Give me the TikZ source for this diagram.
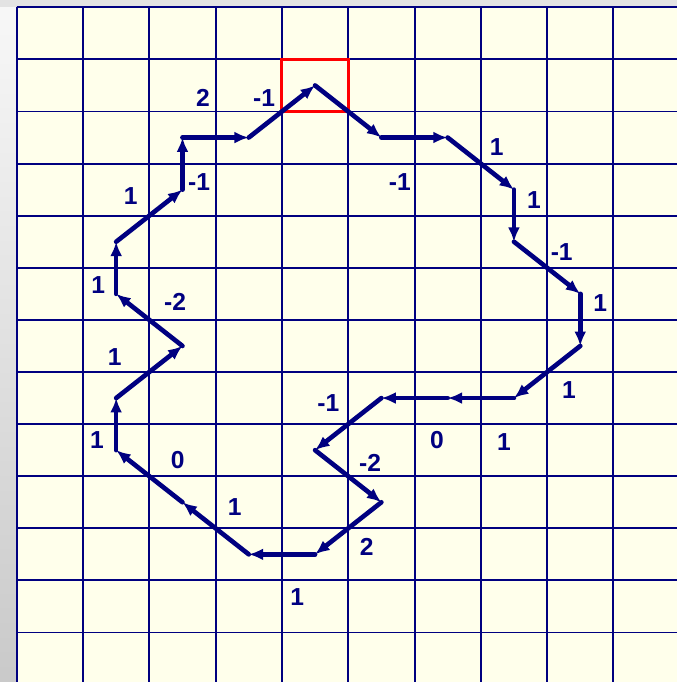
\documentclass[tikz,border=0pt]{standalone}
\usepackage{fontspec}
\setmainfont{Liberation Sans}
\usetikzlibrary{arrows.meta}
\definecolor{paper}{HTML}{FFFFEB}
\definecolor{ink}{HTML}{000080}

\begin{document}
\begin{tikzpicture}[x=1.6575cm,y=-1.3025cm,
    gridline/.style={ink,line width=1.4pt},
    walk/.style={ink,line width=3.3pt,line cap=round,-{Latex[length=0.36cm,width=0.3cm]}},
    num/.style={ink,font=\fontsize{17.5}{20}\selectfont\bfseries}]
    \useasboundingbox (-0.252,-0.14) rectangle (9.959,12.95);

    % Page shadow
    \fill[gray!22] (-0.252,-0.14) rectangle (9.959,0);
    \shade[top color=gray!6,bottom color=gray!42] (-0.252,0) rectangle (0,12.95);

    % Squared paper
    \fill[paper] (0,0) rectangle (9.959,12.95);
    \foreach \c in {0,...,9}
        \draw[gridline] (\c,0) -- (\c,12.95);
    \foreach \r in {0,...,12}
        \draw[gridline] (0,\r) -- (9.959,\r);

    % Start cell
    \draw[red,line width=2.2pt] (4,1) rectangle (5,2);

    % Walk round the loop, cell centre to cell centre
    \foreach \c/\r [count=\i] in {4/1,5/2,6/2,7/3,7/4,8/5,8/6,7/7,6/7,5/7,4/8,5/9,
                                  4/10,3/10,2/9,1/8,1/7,2/6,1/5,1/4,2/3,2/2,3/2}
        \coordinate (p\i) at (\c+0.5,\r+0.5);
    \foreach \i [evaluate=\i as \j using {int(mod(\i,23)+1)}] in {1,...,23}
        \draw[walk] (p\i) -- (p\j);

    % Turn numbers
    \node[num] (n1) at (2.81,1.74) {2};
    \node[num] (n2) at (3.73,1.74) {-1};
    \node[num] (n3) at (1.72,3.62) {1};
    \node[num] (n4) at (2.75,3.35) {-1};
    \node[num] (n5) at (1.23,5.33) {1};
    \node[num] (n6) at (2.39,5.66) {-2};
    \node[num] (n7) at (5.78,3.35) {-1};
    \node[num] (n8) at (7.24,2.68) {1};
    \node[num] (n9) at (7.80,3.70) {1};
    \node[num] (n10) at (8.22,4.70) {-1};
    \node[num] (n11) at (8.80,5.68) {1};
    \node[num] (n12) at (1.48,6.71) {1};
    \node[num] (n13) at (1.21,8.31) {1};
    \node[num] (n14) at (2.43,8.69) {0};
    \node[num] (n15) at (3.29,9.59) {1};
    \node[num] (n16) at (4.23,11.32) {1};
    \node[num] (n17) at (4.70,7.60) {-1};
    \node[num] (n18) at (8.33,7.35) {1};
    \node[num] (n19) at (6.34,8.31) {0};
    \node[num] (n20) at (7.35,8.34) {1};
    \node[num] (n21) at (5.33,8.75) {-2};
    \node[num] (n22) at (5.28,10.36) {2};
\end{tikzpicture}
\end{document}
